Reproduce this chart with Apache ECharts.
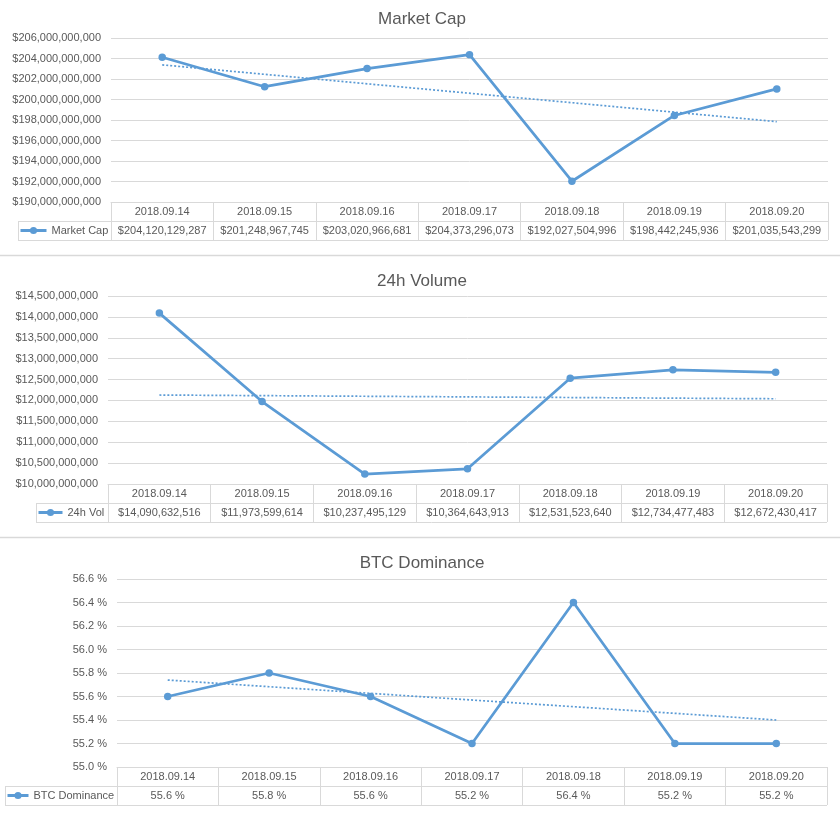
<!DOCTYPE html>
<html>
<head>
<meta charset="utf-8">
<script src="https://cdn.jsdelivr.net/npm/echarts@6/dist/echarts.min.js"></script>
<style>
  html, body { margin: 0; padding: 0; background: #fff; }
  #chart { width: 840px; height: 818px; }
</style>
</head>
<body>
<div id="chart"></div>
<script>
// ---------- data ----------
const dates = ['2018.09.14', '2018.09.15', '2018.09.16', '2018.09.17', '2018.09.18', '2018.09.19', '2018.09.20'];
const marketCap = [204120129287, 201248967745, 203020966681, 204373296073, 192027504996, 198442245936, 201035543299];
const volume24h = [14090632516, 11973599614, 10237495129, 10364643913, 12531523640, 12734477483, 12672430417];
const btcDominance = [55.6, 55.8, 55.6, 55.2, 56.4, 55.2, 55.2];
// dotted trend lines: start / end values
const marketCapTrend = [203380000000, 197840000000];
const volumeTrend = [12130000000, 12040000000];
const btcTrend = [55.74, 55.40];
// y axis ticks: min, max, step
const marketCapTicks = [190000000000, 206000000000, 2000000000];
const volumeTicks = [10000000000, 14500000000, 500000000];
const btcTicks = [55.0, 56.6, 0.2];
const titles = ['Market Cap', '24h Volume', 'BTC Dominance'];
const seriesNames = ['Market Cap', '24h Vol', 'BTC Dominance'];

// ---------- layout ----------
const W = 840;
const BLUE = '#5b9bd5';
const GRID = '#d9d9d9';
const TXT = '#595959';
const FONT = 'Liberation Sans';
const ROW = 19;
const panels = [
  { left: 111, rightX: 828, top: 38, bottom: 202, legendLeft: 18, iconLeft: 19, legendIcon: 26, titleTop: 6 },
  { left: 108, rightX: 827, top: 296, bottom: 484, legendLeft: 36, iconLeft: 37, legendIcon: 24, titleTop: 268 },
  { left: 117, rightX: 827, top: 579, bottom: 767, legendLeft: 5, iconLeft: 6, legendIcon: 21, titleTop: 550 }
];
const separators = [255.5, 537.5];

const money = v => '$' + Math.round(v).toLocaleString('en-US');
const pct = v => v.toFixed(1) + ' %';
const dataSets = [marketCap, volume24h, btcDominance];
const trends = [marketCapTrend, volumeTrend, btcTrend];
const ticks = [marketCapTicks, volumeTicks, btcTicks];
const fmts = [money, money, pct];

const trendData = t => dates.map((d, i) => i === 0 ? t[0] : (i === dates.length - 1 ? t[1] : '-'));

const option = {
  animation: false,
  title: [], grid: [], xAxis: [], yAxis: [], series: [], legend: [], graphic: []
};

panels.forEach((p, k) => {
  option.title.push({
    text: titles[k], left: 417, top: p.titleTop, textAlign: 'center',
    textStyle: { fontFamily: FONT, fontSize: 17, fontWeight: 'normal', color: TXT }
  });
  option.grid.push({ left: p.left, width: p.rightX - p.left, top: p.top, height: p.bottom - p.top });
  const vals = dataSets[k].map(fmts[k]);
  option.xAxis.push({
    type: 'category', gridIndex: k, data: dates, boundaryGap: true,
    axisLine: { show: true, lineStyle: { color: GRID, width: 1 } },
    axisTick: { show: true, length: ROW * 2, interval: 0, alignWithLabel: false, lineStyle: { color: GRID } },
    splitLine: { show: false },
    axisLabel: {
      interval: 0, margin: 0,
      formatter: (v, i) => '{d|' + v + '}\n{v|' + vals[i] + '}',
      rich: {
        d: { fontFamily: FONT, fontSize: 11, color: TXT, lineHeight: ROW, height: ROW },
        v: { fontFamily: FONT, fontSize: 11, color: TXT, lineHeight: ROW, height: ROW }
      }
    }
  });
  option.yAxis.push({
    type: 'value', gridIndex: k, min: ticks[k][0], max: ticks[k][1], interval: ticks[k][2],
    axisLine: { show: false }, axisTick: { show: false },
    splitLine: { show: true, lineStyle: { color: GRID, width: 1 } },
    axisLabel: { margin: 10, fontFamily: FONT, fontSize: 11, color: TXT, formatter: fmts[k] }
  });
  option.series.push({
    name: 'trend' + k, type: 'line', xAxisIndex: k, yAxisIndex: k,
    data: trendData(trends[k]), connectNulls: true, symbol: 'none', z: 1,
    lineStyle: { color: BLUE, width: 1.7, type: [2, 2] }, silent: true
  });
  option.series.push({
    name: seriesNames[k], type: 'line', xAxisIndex: k, yAxisIndex: k,
    data: dataSets[k], symbol: 'circle', symbolSize: 7.5, z: 3,
    itemStyle: { color: BLUE }, lineStyle: { color: BLUE, width: 2.75 }
  });
  option.legend.push({
    data: [seriesNames[k]], left: p.iconLeft, top: p.bottom + ROW + 4, padding: 0,
    itemWidth: p.legendIcon, itemHeight: 9, itemGap: 0, selectedMode: false,
    lineStyle: { width: 3 },
    textStyle: { fontFamily: FONT, fontSize: 11, color: TXT }
  });
  const y1 = p.bottom + ROW + 0.5, y2 = p.bottom + 2 * ROW + 0.5;
  const ls = { stroke: GRID, lineWidth: 1 };
  option.graphic.push(
    { type: 'line', shape: { x1: p.legendLeft, y1: y1, x2: p.rightX, y2: y1 }, style: ls, silent: true },
    { type: 'line', shape: { x1: p.legendLeft, y1: y2, x2: p.rightX, y2: y2 }, style: ls, silent: true },
    { type: 'line', shape: { x1: p.legendLeft + 0.5, y1: y1, x2: p.legendLeft + 0.5, y2: y2 }, style: ls, silent: true }
  );
});
separators.forEach(y => option.graphic.push(
  { type: 'line', shape: { x1: 0, y1: y, x2: W, y2: y }, style: { stroke: GRID, lineWidth: 1.5 }, silent: true }
));

const chart = echarts.init(document.getElementById('chart'));
chart.setOption(option);
</script>
</body>
</html>
